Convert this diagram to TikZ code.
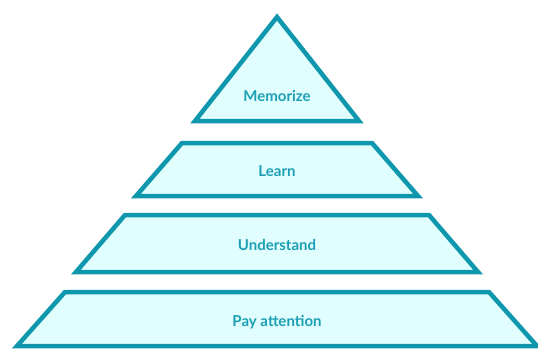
\documentclass[tikz,border=0pt]{standalone}
\usepackage{fontspec}
\setmainfont{Lato}
\usepackage{tikz}
\usetikzlibrary{positioning}
\usepackage{xcolor}
\definecolor{tealline}{HTML}{0F97AD}
\definecolor{tealfill}{HTML}{E0FEFE}
\definecolor{tealtext}{HTML}{1C9FB5}

\begin{document}
\begin{tikzpicture}[x=1pt,y=-1pt,line join=miter]
  \tikzstyle{layer}=[draw=tealline,fill=tealfill,line width=4.5pt]
  \tikzstyle{every node}=[text=tealtext,font=\fontsize{15}{17}\selectfont\bfseries]

  \useasboundingbox (0,0) rectangle (538,351);

  % levels, top to bottom
  \path[layer] (277,17) -- (359,121) -- (195,121) -- cycle;
  \path[layer] (182,143) -- (372,143) -- (418,196) -- (136,196) -- cycle;
  \path[layer] (125,215) -- (429,215) -- (478,272) -- (76,272) -- cycle;
  \path[layer] (65,292) -- (489,292) -- (537,346) -- (17,346) -- cycle;

  \node (memorize)   at (277,96)  {Memorize};
  \node (learn)      at (277,171) {Learn};
  \node (understand) at (277,245) {Understand};
  \node (payatt)     at (277,322) {Pay attention};
\end{tikzpicture}
\end{document}
